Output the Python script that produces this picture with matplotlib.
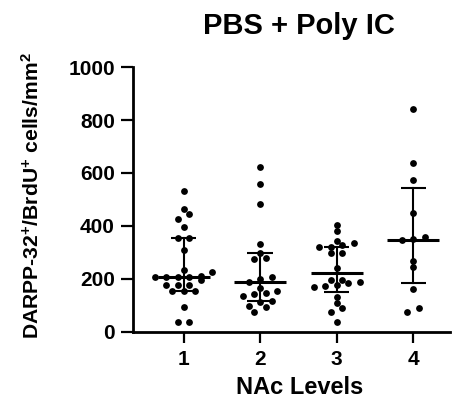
import matplotlib
matplotlib.use("Agg")
import matplotlib.pyplot as plt
import numpy as np

# ---- data ----
levels = ["1", "2", "3", "4"]
level1 = [532, 465, 444, 425, 397, 353, 353, 309, 233, 226, 210, 208, 208, 208, 208,
          195, 176, 176, 176, 155, 155, 155, 94, 37, 37]
level2 = [624, 559, 482, 331, 299, 277, 275, 205, 198, 187, 164, 155, 145, 142, 136,
          117, 113, 97, 92, 75]
level3 = [403, 381, 344, 334, 328, 319, 319, 296, 296, 242, 195, 195, 189, 184, 176,
          172, 170, 130, 107, 88, 75, 37]
level4 = [843, 637, 574, 448, 357, 349, 347, 267, 243, 161, 88, 73]
medians = [207, 187, 220, 348]
q1 = [155, 115, 148, 183]
q3 = [353, 297, 321, 542]
yticks = [0, 200, 400, 600, 800, 1000]

plt.rcParams['font.family'] = ['Liberation Sans', 'DejaVu Sans']
plt.rcParams['font.weight'] = 'bold'
plt.rcParams['mathtext.fontset'] = 'custom'
plt.rcParams['mathtext.bf'] = 'Liberation Sans:bold'
plt.rcParams['mathtext.rm'] = 'Liberation Sans:bold'
plt.rcParams['mathtext.default'] = 'bf'

fig = plt.figure(figsize=(4.6, 3.99), dpi=100)
ax = fig.add_axes([133/460, 1 - 331.5/399, (450-133)/460, (331.5-67.3)/399])
ax.set_xlim(0.34, 4.48)
ax.set_ylim(0, 1000)

groups = [level1, level2, level3, level4]
spacing = 11.5   # px between dots in a row
row_thr = 5.5    # px vertical tolerance to share a row

for gi, vals in enumerate(groups):
    xc = gi + 1
    svals = sorted(vals)
    rows = []
    for v in svals:
        py = ax.transData.transform((xc, v))[1]
        if rows and abs(py - rows[-1][0]) < row_thr:
            rows[-1][1].append(v)
        else:
            rows.append([py, [v]])
    xs, ys = [], []
    cx = ax.transData.transform((xc, 0))[0]
    for py, rv in rows:
        n = len(rv)
        for k, v in enumerate(rv):
            xp = cx + (k - (n - 1) / 2) * spacing
            xd = ax.transData.inverted().transform((xp, py))[0]
            xs.append(xd)
            ys.append(v)
    ax.scatter(xs, ys, s=24, color='black', zorder=3, linewidths=0)
    # median line
    ax.plot([xc - 0.34, xc + 0.34], [medians[gi]] * 2, color='black', lw=2.2, zorder=4,
            solid_capstyle='butt')
    # IQR bars
    ax.plot([xc, xc], [q1[gi], q3[gi]], color='black', lw=1.5, zorder=4)
    for yv in (q1[gi], q3[gi]):
        ax.plot([xc - 0.165, xc + 0.165], [yv, yv], color='black', lw=1.5, zorder=4,
                solid_capstyle='butt')

for s in ['top', 'right']:
    ax.spines[s].set_visible(False)
for s in ['left', 'bottom']:
    ax.spines[s].set_linewidth(2.0)

ax.set_yticks(yticks)
ax.set_yticklabels([str(t) for t in yticks])
ax.set_xticks([1, 2, 3, 4])
ax.set_xticklabels(levels)
ax.tick_params(axis='y', length=9, width=1.6, pad=4, labelsize=15)
ax.tick_params(axis='x', length=8, width=1.6, pad=5, labelsize=15)
for lab in ax.get_xticklabels() + ax.get_yticklabels():
    lab.set_fontweight('bold')

ax.set_xlabel('NAc Levels', fontsize=17, fontweight='bold')
ax.xaxis.set_label_coords(0.527, -0.17)
ax.set_ylabel(r'DARPP-32$^{+}$/BrdU$^{+}$ cells/mm$^{2}$', fontsize=15.2,
              fontweight='bold')
ax.yaxis.set_label_coords(-0.284, 0.515)
fig.text(299/460, 1 - 26/399, 'PBS + Poly IC', fontsize=21, fontweight='bold',
         ha='center', va='center')

fig.savefig('out.png', dpi=100)
